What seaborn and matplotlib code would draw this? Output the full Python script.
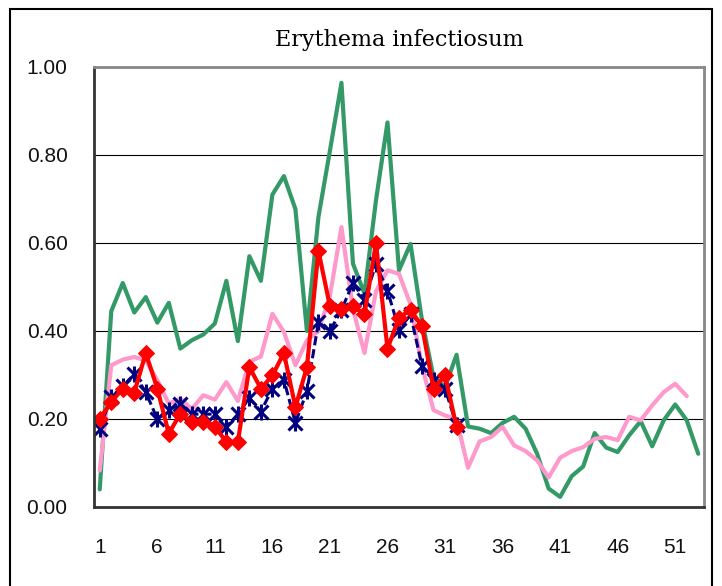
import matplotlib
matplotlib.use('Agg')
import matplotlib.pyplot as plt
import seaborn as sns
from matplotlib.patches import Rectangle

# weekly values
weeks = list(range(1, 54))

green_vals = [0.040, 0.445, 0.509, 0.442, 0.477, 0.419, 0.464, 0.360, 0.379, 0.392,
              0.417, 0.514, 0.377, 0.570, 0.514, 0.710, 0.752, 0.677, 0.400, 0.659,
              0.810, 0.964, 0.553, 0.485, 0.697, 0.874, 0.538, 0.598, 0.424, 0.295,
              0.273, 0.346, 0.183, 0.178, 0.168, 0.191, 0.205, 0.178, 0.121, 0.042,
              0.023, 0.070, 0.092, 0.168, 0.135, 0.125, 0.163, 0.195, 0.138, 0.197,
              0.233, 0.197, 0.121]

pink_vals = [0.083, 0.322, 0.335, 0.341, 0.333, 0.288, 0.235, 0.246, 0.223, 0.254,
             0.244, 0.284, 0.241, 0.330, 0.342, 0.439, 0.398, 0.322, 0.379, 0.400,
             0.480, 0.636, 0.450, 0.350, 0.490, 0.538, 0.530, 0.460, 0.320, 0.220,
             0.208, 0.200, 0.089, 0.149, 0.159, 0.182, 0.140, 0.127, 0.106, 0.067,
             0.112, 0.127, 0.136, 0.155, 0.159, 0.152, 0.205, 0.197, 0.231, 0.261,
             0.280, 0.252]

navy_vals = [0.178, 0.250, 0.274, 0.302, 0.261, 0.200, 0.221, 0.235, 0.211, 0.211,
             0.211, 0.182, 0.211, 0.248, 0.217, 0.269, 0.289, 0.191, 0.263, 0.420,
             0.400, 0.448, 0.509, 0.471, 0.552, 0.492, 0.403, 0.438, 0.320, 0.288,
             0.269, 0.186]

red_vals = [0.200, 0.239, 0.269, 0.260, 0.350, 0.269, 0.167, 0.212, 0.193, 0.193,
            0.182, 0.148, 0.148, 0.318, 0.269, 0.299, 0.350, 0.227, 0.318, 0.582,
            0.456, 0.451, 0.456, 0.438, 0.600, 0.360, 0.430, 0.448, 0.411, 0.269,
            0.299, 0.182]

ytick_vals = [0.0, 0.2, 0.4, 0.6, 0.8, 1.0]
xtick_labels = [1, 6, 11, 16, 21, 26, 31, 36, 41, 46, 51]
title = 'Erythema infectiosum'

sns.set_style('white')
plt.rcParams['font.family'] = ['Liberation Sans', 'DejaVu Sans']

fig = plt.figure(figsize=(7.22, 5.86), dpi=100)
ax = fig.add_axes([94/722, 1 - 507/586, (704 - 94)/722, (507 - 67)/586])

sns.lineplot(x=weeks, y=green_vals, color='#339966', linewidth=3, ax=ax)
sns.lineplot(x=weeks[:len(pink_vals)], y=pink_vals, color='#FF99CC', linewidth=3, ax=ax)

# navy series: dashed with asterisk-like markers (x plus a vertical bar)
navy = '#000080'
nweeks = weeks[:len(navy_vals)]
sns.lineplot(x=nweeks, y=navy_vals, color=navy, linewidth=2.2,
             linestyle=(0, (3, 1.3)), marker='x', markersize=10,
             markeredgewidth=2.2, markeredgecolor=navy, ax=ax)
sns.lineplot(x=nweeks, y=navy_vals, color=navy, linestyle='none',
             marker='|', markersize=11, markeredgewidth=2.2,
             markeredgecolor=navy, ax=ax)

sns.lineplot(x=weeks[:len(red_vals)], y=red_vals, color='#FF0000', linewidth=3,
             marker='D', markersize=8, markeredgecolor='#FF0000', ax=ax)

ax.set_xlim(0.5, 53.5)
ax.set_ylim(0, 1.0)
ax.set_yticks(ytick_vals)
ax.set_yticklabels(['%.2f' % v for v in ytick_vals])
ax.set_xticks(xtick_labels)
ax.set_xticklabels([str(v) for v in xtick_labels])
ax.set_xticks([v - 0.5 for v in xtick_labels[1:]], minor=True)
ax.tick_params(axis='x', which='major', length=0, pad=22, labelsize=15, colors='#111111')
ax.tick_params(axis='x', which='minor', length=6, width=1, direction='in', color='black')
ax.tick_params(axis='y', which='major', length=0, pad=19, labelsize=15, colors='#111111')
ax.set_xlabel('')
ax.set_ylabel('')

ax.grid(axis='y', color='black', linewidth=0.8)
ax.set_axisbelow(True)
for side in ['top', 'right']:
    ax.spines[side].set_color('#888888')
    ax.spines[side].set_linewidth(2)
for side in ['left', 'bottom']:
    ax.spines[side].set_color('#333333')
    ax.spines[side].set_linewidth(2)

ax.set_title(title, family='DejaVu Serif', fontsize=16, pad=15, color='black')

# outer chart border
fig.add_artist(Rectangle((10/722, -0.05), (712 - 10)/722, 1 - 9/586 + 0.05,
                         transform=fig.transFigure, fill=False,
                         edgecolor='black', linewidth=1.5))

fig.savefig('out.png', dpi=100)
